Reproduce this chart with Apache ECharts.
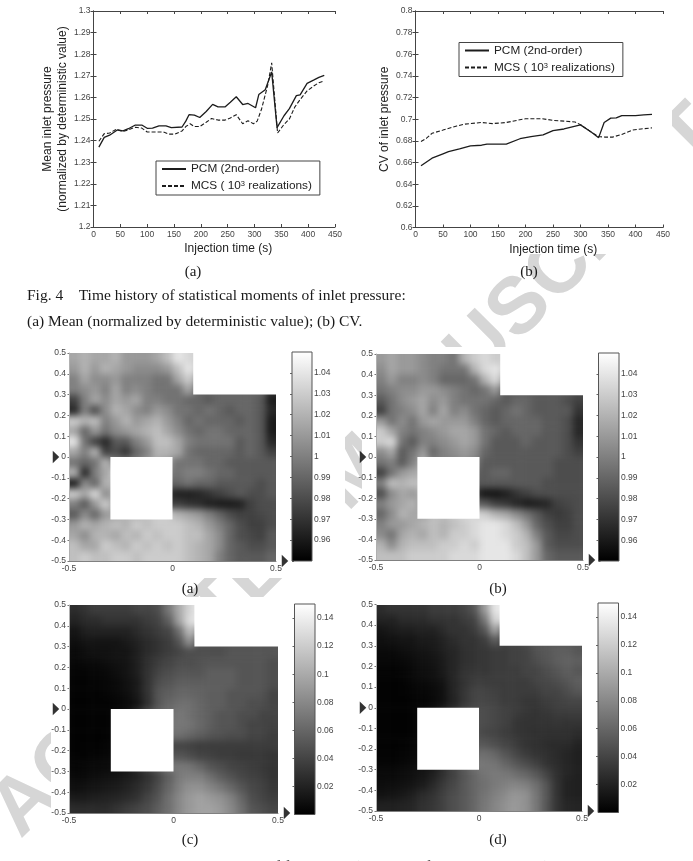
<!DOCTYPE html>
<html>
<head>
<meta charset="utf-8">
<script src="https://cdn.jsdelivr.net/npm/echarts@6/dist/echarts.min.js"></script>
<style>
  html, body { margin: 0; padding: 0; background: #fff; overflow: hidden; }
  #page { position: relative; width: 693px; height: 861px; overflow: hidden; }
  .layer { position: absolute; left: 0; top: 0; width: 693px; height: 861px; }
  .field { position: absolute; overflow: hidden; }
  .field > div { position: absolute; filter: blur(3.5px); }
</style>
</head>
<body>
<div id="page">
  <div id="paper" class="layer"></div>
  <div id="fieldA" class="field"></div>
  <div id="fieldB" class="field"></div>
  <div id="fieldC" class="field"></div>
  <div id="fieldD" class="field"></div>
  <div id="overlay" class="layer"></div>
</div>
<script>
// Time history of inlet pressure: mean
const meanPcm = [[10,1.237],[20,1.2415],[30,1.2425],[45,1.245],[55,1.2445],[65,1.2455],[78,1.2472],[90,1.2472],[100,1.2457],[110,1.2458],[122,1.2468],[135,1.2468],[145,1.246],[165,1.2463],[172,1.249],[178,1.252],[188,1.2518],[198,1.2507],[210,1.2535],[222,1.2568],[232,1.2556],[245,1.2556],[255,1.2578],[266,1.2603],[278,1.2567],[288,1.2572],[302,1.2552],[308,1.2613],[320,1.2635],[332,1.2718],[342,1.246],[355,1.2515],[365,1.2548],[378,1.2608],[385,1.2612],[398,1.2665],[410,1.268],[420,1.2693],[430,1.2702]];
const meanMcs = [[10,1.2397],[20,1.2432],[30,1.2435],[42,1.2452],[55,1.2442],[65,1.245],[78,1.2462],[90,1.2458],[100,1.244],[110,1.244],[130,1.244],[140,1.243],[152,1.243],[165,1.2445],[172,1.2465],[180,1.2478],[188,1.2465],[198,1.2465],[210,1.2485],[220,1.2502],[232,1.2495],[245,1.2495],[255,1.2505],[266,1.252],[278,1.2478],[288,1.2492],[298,1.2478],[305,1.249],[313,1.2545],[325,1.266],[332,1.276],[343,1.2435],[355,1.2475],[365,1.25],[375,1.2555],[385,1.259],[398,1.263],[410,1.2652],[420,1.2668],[430,1.2677]];
// Time history of inlet pressure: coefficient of variation
const cvPcm = [[10,0.657],[30,0.664],[50,0.668],[60,0.67],[80,0.6726],[100,0.6754],[120,0.676],[130,0.677],[165,0.677],[190,0.682],[210,0.684],[232,0.6855],[250,0.6895],[270,0.691],[300,0.6948],[320,0.688],[333,0.683],[343,0.697],[355,0.701],[365,0.7012],[375,0.7034],[400,0.7034],[415,0.704],[430,0.7045]];
const cvMcs = [[10,0.6794],[20,0.6825],[30,0.687],[50,0.69],[75,0.6938],[90,0.6955],[110,0.6965],[120,0.697],[140,0.696],[165,0.697],[200,0.7005],[230,0.7005],[250,0.699],[290,0.6975],[300,0.695],[320,0.688],[333,0.684],[345,0.6835],[358,0.6835],[375,0.686],[395,0.69],[410,0.691],[430,0.692]];

// Filling-time fields on a 20 x 20 cell mesh, top row first. Cells inside the
// cut-outs carry their neighbours' level and sit below the white masks.
const fieldMeanPcm = [
[1.015,1.02,1.015,1.015,1.02,1.01,1.01,1.01,1.015,1.025,1.04,1.035,1.03,1.03,1.03,1.03,1.03,1.03,1.03,1.03],
[1.01,1.02,1.01,1.02,1.015,1.01,1.005,1.005,1.005,1.01,1.025,1.04,1.03,1.03,1.03,1.03,1.03,1.03,1.03,1.03],
[1,1.015,1.005,1.005,1.01,1,1,1,0.995,0.995,1.015,1.03,1.01,1.01,1.01,1.01,1.01,1.01,1.01,1.01],
[1,1.005,1.01,1,1.015,1,1.005,1,0.995,0.995,0.995,1.015,0.99,0.99,0.99,0.99,0.99,0.99,0.99,0.97],
[0.975,1,1.015,1.005,1.015,1.01,1.015,1,1,0.995,0.995,0.99,0.99,0.985,0.99,0.99,0.99,0.99,0.985,0.96],
[0.965,1,0.98,1.005,1.02,1.015,1.005,1,1.01,1.005,0.995,0.995,0.99,0.995,0.99,0.985,0.99,0.99,0.985,0.965],
[1.03,1.02,1.025,1,1.01,1.02,1.01,1.015,1.02,1.01,1,0.99,0.995,0.99,0.99,0.99,0.985,0.99,0.985,0.96],
[1.015,0.99,1.01,0.995,1.005,1.01,1.015,1.02,1.025,1.015,1.005,0.995,0.99,0.995,0.995,0.99,0.99,0.99,0.985,0.96],
[1.04,0.995,0.975,0.965,0.985,0.985,1,1.01,1.025,1.025,1.015,1,0.995,0.995,0.995,0.995,0.985,0.99,0.985,0.965],
[1.015,1,1.02,0.975,0.98,0.97,0.99,1,1.02,1.02,1.015,0.995,0.99,0.99,0.99,0.99,0.985,0.99,0.985,0.975],
[0.995,0.99,0.995,1.02,1,1,1,1.01,1.015,1.01,0.995,0.995,0.995,0.99,0.99,0.985,0.985,0.985,0.985,0.985],
[1.02,0.965,1,1.015,1.03,1.01,1.01,1.01,1.01,1,0.995,1,1,0.995,0.99,0.99,0.985,0.985,0.985,0.985],
[0.96,1.005,0.99,1.02,1.02,1.01,1.01,1.01,1,0.99,0.99,0.995,0.99,0.99,0.985,0.985,0.985,0.985,0.98,0.985],
[1.03,1.015,1.035,1.005,1.02,1.01,1.01,1,0.985,0.97,0.962,0.962,0.965,0.97,0.975,0.98,0.985,0.98,0.98,0.985],
[1,0.985,1.01,1.03,1.01,1.01,1.01,1,0.985,0.975,0.975,0.97,0.968,0.962,0.96,0.96,0.962,0.975,0.98,0.98],
[0.985,1.005,0.99,1.01,1.015,1.02,1.02,1.025,1.03,1.03,1.02,1.015,1.01,1,0.99,0.98,0.975,0.975,0.978,0.98],
[1.01,1.02,1.015,1.02,1.025,1.02,1.03,1.025,1.03,1.03,1.03,1.025,1.02,1.01,1,0.99,0.98,0.975,0.975,0.98],
[1.015,1.005,1.02,1.02,1.015,1.025,1.02,1.03,1.025,1.03,1.03,1.025,1.025,1.015,1.005,0.99,0.98,0.978,0.975,0.985],
[1.025,1.015,1.015,1.03,1.025,1.02,1.03,1.025,1.03,1.025,1.03,1.025,1.02,1.015,1.005,0.99,0.985,0.98,0.98,0.985],
[1.025,1.03,1.025,1.025,1.03,1.03,1.025,1.03,1.03,1.03,1.03,1.025,1.02,1.015,1,0.99,0.985,0.985,0.985,0.99]
];
const fieldMeanMcs = [
[1.01,1.015,1.01,1.01,1.005,1,1,0.995,1.02,1.03,1.035,1.03,1.03,1.03,1.03,1.03,1.03,1.03,1.03,1.03],
[1.005,1.015,1.01,1.01,1.005,1,0.995,0.995,0.995,1.02,1.035,1.04,1.03,1.03,1.03,1.03,1.03,1.03,1.03,1.03],
[1,1.01,1,1,1.005,1,0.99,0.99,0.99,0.995,1.02,1.035,1.01,1.01,1.01,1.01,1.01,1.01,1.01,1.01],
[0.995,1,1.005,1.005,1.01,1.01,1.005,1,0.995,0.99,0.995,1.01,0.985,0.985,0.985,0.985,0.985,0.985,0.985,0.98],
[0.985,0.995,1.005,1.01,1.015,1.005,1.01,1,0.995,0.995,0.995,0.99,0.985,0.99,0.99,0.985,0.985,0.985,0.98,0.975],
[0.975,0.995,1,1.005,1.015,1,1.015,1,1.005,0.995,0.99,0.985,0.99,0.995,0.99,0.985,0.985,0.985,0.985,0.97],
[1.01,0.995,1.005,0.995,1.01,1.015,1.01,1.01,1.01,1,0.99,0.985,0.99,0.99,0.99,0.99,0.985,0.985,0.98,0.965],
[1.03,1.015,1,0.995,1,1.005,1.01,1.015,1.015,1.01,0.995,0.99,0.985,0.99,0.99,0.99,0.985,0.985,0.98,0.965],
[1.03,1.035,0.995,0.985,1,1,1.005,1.01,1.015,1.01,0.995,0.985,0.985,0.985,0.99,0.985,0.985,0.985,0.98,0.97],
[1.005,1.015,0.985,0.995,1.01,0.99,1,1.005,1.01,1.005,0.99,0.985,0.985,0.985,0.985,0.985,0.985,0.985,0.98,0.975],
[0.995,1,0.985,1,1.02,1,1,1,1.005,1,0.985,0.985,0.985,0.985,0.985,0.985,0.985,0.98,0.98,0.98],
[0.975,0.995,1.01,1.015,1.02,1.01,1.01,1,0.995,0.99,0.985,0.99,0.99,0.985,0.985,0.985,0.985,0.98,0.98,0.98],
[1,1.025,1.02,1.025,1.025,1.01,1.01,1,0.99,0.985,0.985,0.985,0.985,0.985,0.985,0.985,0.98,0.98,0.98,0.98],
[0.98,1.005,1.015,1.01,1.02,1.01,1,0.99,0.98,0.97,0.958,0.958,0.962,0.97,0.975,0.98,0.98,0.98,0.98,0.98],
[1,1.01,1.015,1.02,1.01,1.01,1.01,1.01,1,0.99,0.985,0.975,0.972,0.965,0.96,0.962,0.965,0.975,0.978,0.98],
[0.99,1.005,1.02,1.015,1.015,1.025,1.025,1.03,1.035,1.035,1.03,1.02,1.015,1.005,0.995,0.985,0.975,0.972,0.975,0.98],
[1,1.01,1.01,1.015,1.02,1.025,1.02,1.025,1.03,1.035,1.04,1.04,1.035,1.025,1.01,0.99,0.98,0.975,0.975,0.98],
[1.005,0.995,1.015,1.02,1.015,1.025,1.02,1.03,1.03,1.035,1.04,1.04,1.035,1.03,1.02,1,0.985,0.978,0.978,0.98],
[1.02,1.005,1.02,1.025,1.025,1.025,1.03,1.03,1.035,1.03,1.04,1.04,1.04,1.03,1.025,1.01,0.985,0.98,0.98,0.98],
[1.025,1.025,1.025,1.03,1.03,1.03,1.03,1.035,1.035,1.035,1.04,1.04,1.04,1.035,1.025,1.01,0.99,0.985,0.985,0.985]
];
const fieldCvPcm = [
[0.025,0.03,0.035,0.035,0.035,0.035,0.04,0.04,0.045,0.07,0.1,0.125,0.14,0.14,0.14,0.14,0.14,0.14,0.14,0.14],
[0.02,0.025,0.025,0.03,0.03,0.03,0.03,0.035,0.04,0.055,0.095,0.13,0.14,0.14,0.14,0.14,0.14,0.14,0.14,0.14],
[0.012,0.018,0.02,0.02,0.02,0.02,0.025,0.03,0.035,0.04,0.065,0.11,0.09,0.07,0.06,0.06,0.06,0.06,0.06,0.06],
[0.008,0.012,0.012,0.012,0.012,0.015,0.02,0.025,0.03,0.035,0.05,0.085,0.05,0.05,0.05,0.05,0.05,0.05,0.05,0.05],
[0.005,0.008,0.01,0.01,0.012,0.012,0.018,0.025,0.03,0.035,0.04,0.045,0.045,0.045,0.045,0.05,0.05,0.05,0.05,0.05],
[0.004,0.005,0.006,0.008,0.01,0.012,0.018,0.028,0.035,0.04,0.045,0.045,0.048,0.05,0.05,0.05,0.05,0.05,0.05,0.045],
[0.003,0.003,0.004,0.005,0.008,0.012,0.018,0.03,0.04,0.045,0.05,0.05,0.05,0.055,0.055,0.055,0.05,0.05,0.05,0.045],
[0.002,0.002,0.003,0.004,0.006,0.01,0.015,0.03,0.045,0.05,0.055,0.055,0.055,0.055,0.055,0.055,0.05,0.05,0.05,0.045],
[0.002,0.002,0.002,0.003,0.005,0.008,0.015,0.03,0.05,0.055,0.06,0.06,0.058,0.055,0.055,0.05,0.05,0.05,0.048,0.04],
[0.001,0.001,0.002,0.002,0.003,0.006,0.012,0.028,0.05,0.06,0.065,0.065,0.06,0.055,0.055,0.05,0.05,0.045,0.045,0.04],
[0.001,0.001,0.002,0.002,0.005,0.01,0.03,0.05,0.06,0.065,0.07,0.065,0.06,0.055,0.05,0.05,0.045,0.045,0.04,0.04],
[0.001,0.001,0.002,0.002,0.005,0.01,0.03,0.05,0.06,0.07,0.07,0.068,0.062,0.055,0.05,0.05,0.045,0.04,0.04,0.038],
[0.001,0.001,0.001,0.002,0.005,0.01,0.03,0.05,0.06,0.065,0.065,0.06,0.055,0.05,0.048,0.045,0.045,0.04,0.04,0.035],
[0.001,0.002,0.002,0.003,0.005,0.01,0.03,0.04,0.04,0.04,0.04,0.038,0.035,0.035,0.035,0.035,0.035,0.035,0.035,0.035],
[0.002,0.002,0.003,0.004,0.006,0.01,0.03,0.04,0.05,0.05,0.05,0.045,0.04,0.038,0.035,0.035,0.033,0.033,0.033,0.03],
[0.003,0.004,0.005,0.006,0.008,0.012,0.025,0.04,0.055,0.07,0.07,0.068,0.06,0.05,0.045,0.04,0.038,0.035,0.033,0.03],
[0.005,0.006,0.008,0.01,0.012,0.016,0.02,0.028,0.04,0.055,0.072,0.075,0.075,0.065,0.055,0.048,0.042,0.038,0.035,0.03],
[0.008,0.01,0.012,0.014,0.016,0.02,0.025,0.033,0.045,0.06,0.075,0.085,0.085,0.078,0.07,0.06,0.05,0.042,0.038,0.032],
[0.015,0.016,0.018,0.02,0.022,0.025,0.03,0.04,0.05,0.065,0.08,0.09,0.095,0.09,0.085,0.075,0.06,0.045,0.04,0.035],
[0.025,0.025,0.025,0.025,0.03,0.035,0.04,0.045,0.055,0.065,0.08,0.09,0.095,0.095,0.09,0.08,0.065,0.05,0.045,0.04]
];
const fieldCvMcs = [
[0.025,0.03,0.03,0.03,0.03,0.035,0.035,0.035,0.04,0.05,0.09,0.135,0.14,0.14,0.14,0.14,0.14,0.14,0.14,0.14],
[0.02,0.02,0.025,0.025,0.025,0.03,0.03,0.03,0.035,0.04,0.07,0.125,0.13,0.13,0.13,0.13,0.13,0.13,0.13,0.13],
[0.012,0.015,0.018,0.018,0.02,0.02,0.025,0.03,0.03,0.035,0.05,0.095,0.06,0.05,0.05,0.05,0.05,0.05,0.05,0.05],
[0.008,0.01,0.012,0.012,0.015,0.016,0.02,0.025,0.03,0.03,0.035,0.055,0.04,0.04,0.045,0.05,0.05,0.05,0.05,0.05],
[0.005,0.006,0.008,0.01,0.012,0.014,0.018,0.022,0.028,0.03,0.032,0.035,0.035,0.038,0.04,0.048,0.052,0.055,0.055,0.05],
[0.004,0.004,0.005,0.007,0.01,0.012,0.016,0.022,0.028,0.03,0.032,0.035,0.035,0.038,0.04,0.045,0.05,0.055,0.058,0.055],
[0.002,0.002,0.003,0.005,0.008,0.01,0.015,0.022,0.03,0.032,0.032,0.035,0.035,0.035,0.04,0.04,0.045,0.05,0.055,0.05],
[0.001,0.001,0.002,0.004,0.006,0.008,0.012,0.022,0.03,0.035,0.035,0.035,0.035,0.035,0.035,0.04,0.042,0.045,0.05,0.055],
[0.001,0.001,0.002,0.003,0.004,0.006,0.01,0.022,0.032,0.04,0.04,0.038,0.035,0.035,0.035,0.035,0.04,0.04,0.045,0.05],
[0.001,0.001,0.001,0.002,0.003,0.005,0.01,0.02,0.032,0.04,0.042,0.04,0.035,0.035,0.032,0.032,0.035,0.038,0.04,0.04],
[0.001,0.001,0.001,0.002,0.005,0.01,0.02,0.03,0.04,0.045,0.045,0.042,0.038,0.035,0.032,0.03,0.032,0.035,0.035,0.035],
[0.001,0.001,0.001,0.002,0.005,0.01,0.02,0.03,0.04,0.045,0.045,0.042,0.038,0.032,0.03,0.03,0.03,0.032,0.03,0.03],
[0.001,0.001,0.001,0.002,0.005,0.01,0.02,0.03,0.04,0.045,0.042,0.04,0.035,0.032,0.03,0.028,0.028,0.028,0.028,0.025],
[0.001,0.001,0.002,0.003,0.005,0.01,0.02,0.03,0.045,0.05,0.05,0.045,0.04,0.035,0.03,0.028,0.026,0.025,0.025,0.02],
[0.002,0.002,0.003,0.004,0.006,0.01,0.02,0.035,0.05,0.06,0.065,0.06,0.05,0.042,0.035,0.03,0.028,0.025,0.022,0.018],
[0.003,0.003,0.004,0.006,0.008,0.012,0.025,0.04,0.055,0.07,0.07,0.068,0.06,0.052,0.045,0.038,0.03,0.026,0.022,0.018],
[0.005,0.005,0.007,0.009,0.012,0.018,0.028,0.038,0.05,0.06,0.068,0.072,0.07,0.065,0.06,0.052,0.04,0.028,0.022,0.018],
[0.007,0.008,0.01,0.012,0.016,0.024,0.034,0.042,0.052,0.06,0.065,0.072,0.075,0.078,0.075,0.065,0.05,0.03,0.02,0.018],
[0.01,0.012,0.014,0.018,0.025,0.03,0.038,0.045,0.052,0.06,0.068,0.075,0.082,0.088,0.085,0.07,0.052,0.03,0.02,0.018],
[0.018,0.018,0.02,0.022,0.028,0.032,0.038,0.045,0.052,0.06,0.07,0.078,0.085,0.09,0.085,0.07,0.05,0.03,0.022,0.02]
];

const pressureTicks = { min: 1.2, max: 1.3, step: 0.01 };
const cvTicks = { min: 0.6, max: 0.8, step: 0.02 };
const timeTicks = { min: 0, max: 450, step: 50 };
const fieldMeanRange = { min: 0.95, max: 1.05, step: 0.01 };
const fieldCvRange = { min: 0, max: 0.15, step: 0.02 };
const seriesNames = ['PCM (2nd-order)', 'MCS (10^3 realizations)'];
// Domain cut-outs in field coordinates: x0, y0, x1, y1
const cutOuts = [[-0.3, -0.3, 0, 0], [0.1, 0.3, 0.5, 0.5]];
// Pointer triangles on the field axes
const leftPointer = [[-0.5, 0]];
const cornerPointer = [[0.5, -0.5]];
// Words of the figure 5 caption, spread across the text column
const fig5Words = [['Fig.', 46], ['5', 83], ['Statistical', 112], ['moments', 190], ['of', 267], ['filling', 284], ['(constant', 354], ['flow-rate', 425], ['injection)', 490], ['process', 575]];

// Page layout in pixels
const ink = '#222222';
const sans = '"Liberation Sans", Arial, sans-serif';
const serif = '"Liberation Serif", "Times New Roman", serif';
const lineBoxes = [
  { left: 93.5, right: 335, top: 11, bottom: 227 },
  { left: 415.5, right: 663, top: 11, bottom: 227.5 }
];
const panels = [
  { id: 'fieldA', rows: fieldMeanPcm, range: fieldMeanRange, box: { left: 69, right: 276, top: 353, bottom: 561 }, bar: { left: 292, right: 312, top: 352, bottom: 561 } },
  { id: 'fieldB', rows: fieldMeanMcs, range: fieldMeanRange, box: { left: 376, right: 583, top: 354, bottom: 560 }, bar: { left: 598.5, right: 619, top: 353, bottom: 561 } },
  { id: 'fieldC', rows: fieldCvPcm, range: fieldCvRange, box: { left: 69, right: 278, top: 605, bottom: 813 }, bar: { left: 294.5, right: 315, top: 604, bottom: 814.5 } },
  { id: 'fieldD', rows: fieldCvMcs, range: fieldCvRange, box: { left: 376, right: 582, top: 604.5, bottom: 811 }, bar: { left: 598, right: 618.5, top: 603, bottom: 812.5 } }
];

function gridOf(b) {
  return { left: b.left, top: b.top, width: b.right - b.left, height: b.bottom - b.top, containLabel: false };
}

// Each field is a heatmap on hidden category axes, softened by the blur on its
// holder; one ring of border cells keeps the blur from fading at the plot edge.
panels.forEach(function (p) {
  const holder = document.getElementById(p.id);
  const w = p.box.right - p.box.left, h = p.box.bottom - p.box.top;
  holder.style.cssText = 'left:' + p.box.left + 'px;top:' + p.box.top + 'px;width:' + w + 'px;height:' + h + 'px';
  const cw = w / 20, ch = h / 20;
  const inner = document.createElement('div');
  inner.style.cssText = 'left:' + (-cw) + 'px;top:' + (-ch) + 'px;width:' + (w + 2 * cw) + 'px;height:' + (h + 2 * ch) + 'px';
  holder.appendChild(inner);
  const cells = [];
  for (let r = -1; r <= 20; r++) {
    for (let c = -1; c <= 20; c++) {
      const row = p.rows[Math.min(19, Math.max(0, r))];
      cells.push([c + 1, r + 1, row[Math.min(19, Math.max(0, c))]]);
    }
  }
  const idx = Array.from({ length: 22 }, function (_, i) { return i; });
  echarts.init(inner).setOption({
    animation: false,
    grid: { left: 0, right: 0, top: 0, bottom: 0 },
    xAxis: { type: 'category', data: idx, show: false },
    yAxis: { type: 'category', data: idx, show: false, inverse: true },
    visualMap: { show: false, min: p.range.min, max: p.range.max, inRange: { color: ['#000000', '#ffffff'] } },
    series: [{ type: 'heatmap', data: cells, progressive: 0, itemStyle: { borderWidth: 0 } }]
  });
});

// Paper layer: watermark, opaque figure boxes, captions and the two line plots
const figureBoxes = [
  [30, 0, 315, 254], [362, 0, 310, 254],
  [51, 347, 294, 231], [362, 347, 280, 231],
  [51, 597, 294, 231], [362, 597, 280, 231]
];
function caption(text, x, y, size, align) {
  return { type: 'text', z: 5, x: x, y: y, style: { text: text, fill: '#1a1a1a', font: size + 'px ' + serif, align: align || 'left', verticalAlign: 'middle' } };
}
const paperGraphics = [
  { type: 'text', z: 1, x: 357, y: 472, rotation: Math.PI / 4, style: { text: 'ACCEPTED MANUSCRIPT', fill: '#d6d6d6', font: 'bold 80px ' + sans, align: 'center', verticalAlign: 'middle' } }
].concat(figureBoxes.map(function (b) {
  return { type: 'rect', z: 2, shape: { x: b[0], y: b[1], width: b[2], height: b[3] }, style: { fill: '#ffffff' } };
})).concat([
  caption('(a)', 193, 272, 15, 'center'),
  caption('(b)', 529, 272, 15, 'center'),
  caption('Fig. 4    Time history of statistical moments of inlet pressure:', 27, 296, 15.5),
  caption('(a) Mean (normalized by deterministic value); (b) CV.', 27, 322, 15.5),
  caption('(a)', 190, 589, 15, 'center'),
  caption('(b)', 498, 589, 15, 'center'),
  caption('(c)', 190, 840, 15, 'center'),
  caption('(d)', 498, 840, 15, 'center')
]).concat(fig5Words.map(function (w) { return caption(w[0], w[1], 867, 15.5); }));

function lineAxes(ticks, yName, gap, i) {
  const axisStyle = { lineStyle: { color: '#444', width: 1 } };
  const tickStyle = { show: true, inside: true, length: 3, lineStyle: { color: '#444' } };
  return {
    x: [
      { gridIndex: i, z: 5, type: 'value', min: timeTicks.min, max: timeTicks.max, interval: timeTicks.step, name: 'Injection time (s)', nameLocation: 'middle', nameGap: 16, nameTextStyle: { fontFamily: sans, fontSize: 12, color: ink, padding: [0, 0, 0, 28] }, axisLine: Object.assign({ onZero: false }, axisStyle), axisTick: tickStyle, splitLine: { show: false }, axisLabel: { fontFamily: sans, fontSize: 8.5, color: '#444', margin: 3 } },
      { gridIndex: i, z: 5, type: 'value', position: 'top', min: timeTicks.min, max: timeTicks.max, interval: timeTicks.step, axisLine: axisStyle, axisTick: tickStyle, axisLabel: { show: false }, splitLine: { show: false } }
    ],
    y: [
      { gridIndex: i, z: 5, type: 'value', min: ticks.min, max: ticks.max, interval: ticks.step, name: yName, nameLocation: 'middle', nameGap: gap, nameTextStyle: { fontFamily: sans, fontSize: 12, color: ink, lineHeight: 15 }, axisLine: Object.assign({ onZero: false }, axisStyle), axisTick: tickStyle, splitLine: { show: false }, axisLabel: { fontFamily: sans, fontSize: 8.5, color: '#444', margin: 3 } },
      { gridIndex: i, z: 5, type: 'value', position: 'right', min: ticks.min, max: ticks.max, interval: ticks.step, axisLine: axisStyle, axisTick: tickStyle, axisLabel: { show: false }, splitLine: { show: false } }
    ]
  };
}
const axesMean = lineAxes(pressureTicks, 'Mean inlet pressure\n(normalized by deterministic value)', 20, 0);
const axesCv = lineAxes(cvTicks, 'CV of inlet pressure', 21, 1);
function curve(name, data, xi, yi, dashed) {
  return { type: 'line', name: name, xAxisIndex: xi, yAxisIndex: yi, data: data, symbol: 'none', z: 6, lineStyle: { color: '#1c1c1c', width: dashed ? 1.1 : 1.3, type: dashed ? [4, 2] : 'solid' }, itemStyle: { color: '#1c1c1c' } };
}
function legendAt(left, top) {
  return {
    left: left, top: top, z: 7, orient: 'vertical', itemWidth: 24, itemHeight: 6, itemGap: 5,
    padding: [2, 8, 2, 5], backgroundColor: '#fff', borderColor: '#444', borderWidth: 1, borderRadius: 0,
    data: seriesNames,
    itemStyle: { color: 'rgba(0,0,0,0)', borderColor: 'rgba(0,0,0,0)', borderWidth: 0 },
    formatter: function (n) { return n.indexOf('^') > 0 ? 'MCS ( 10{sup|3} realizations)' : n; },
    textStyle: { fontFamily: sans, fontSize: 11.8, color: ink, rich: { sup: { fontSize: 7.5, verticalAlign: 'top', lineHeight: 12, padding: [0, 0, 5, 0], color: ink } } }
  };
}
echarts.init(document.getElementById('paper')).setOption({
  animation: false,
  graphic: paperGraphics,
  grid: lineBoxes.map(function (b) { return Object.assign(gridOf(b), { show: false }); }),
  legend: [legendAt(156, 161), legendAt(459, 42.5)],
  xAxis: axesMean.x.concat(axesCv.x),
  yAxis: axesMean.y.concat(axesCv.y),
  series: [
    curve(seriesNames[0], meanPcm, 0, 0, false),
    curve(seriesNames[1], meanMcs, 0, 0, true),
    curve(seriesNames[0], cvPcm, 2, 2, false),
    curve(seriesNames[1], cvMcs, 2, 2, true)
  ]
});

// Overlay layer: crisp axes, white cut-outs, colour bars and pointers above the fields
const overlay = { animation: false, grid: [], xAxis: [], yAxis: [], series: [] };
const labelStyle = { fontFamily: sans, fontSize: 8.5, color: '#444' };
function addAxis(list, a) { list.push(a); return list.length - 1; }
panels.forEach(function (p) {
  const g = overlay.grid.push(gridOf(p.box)) - 1;
  const xi = addAxis(overlay.xAxis, { gridIndex: g, type: 'value', min: -0.5, max: 0.5, interval: 0.5, axisLine: { onZero: false, lineStyle: { color: '#808080' } }, axisTick: { show: false }, splitLine: { show: false }, axisLabel: Object.assign({ margin: 3 }, labelStyle) });
  const yi = addAxis(overlay.yAxis, { gridIndex: g, type: 'value', min: -0.5, max: 0.5, interval: 0.1, axisLine: { onZero: false, lineStyle: { color: '#b0b0b0' } }, axisTick: { show: true, length: 1.5, lineStyle: { color: '#777' } }, splitLine: { show: false }, axisLabel: Object.assign({ margin: 3 }, labelStyle) });
  overlay.series.push({
    type: 'custom', xAxisIndex: xi, yAxisIndex: yi, clip: false, data: cutOuts, z: 3,
    renderItem: function (params, api) {
      const a = api.coord([api.value(0), api.value(1)]);
      const b = api.coord([api.value(2), api.value(3)]);
      return { type: 'rect', shape: { x: a[0], y: b[1], width: b[0] - a[0], height: a[1] - b[1] }, style: { fill: '#fff' } };
    }
  });
  const pointerStyle = { type: 'scatter', xAxisIndex: xi, yAxisIndex: yi, clip: false, symbol: 'triangle', symbolRotate: -90, symbolSize: [12.5, 6.5], itemStyle: { color: '#000' }, silent: true, z: 5 };
  overlay.series.push(Object.assign({ data: leftPointer, symbolOffset: [-13, 0] }, pointerStyle));
  overlay.series.push(Object.assign({ data: cornerPointer, symbolOffset: [9, 0] }, pointerStyle));

  // Colour bar: a gradient rectangle spanning the field's value range on its own axis
  const bg = overlay.grid.push(Object.assign(gridOf(p.bar), { show: true, borderColor: '#555', borderWidth: 1, z: 6 })) - 1;
  const bxi = addAxis(overlay.xAxis, { gridIndex: bg, type: 'value', min: 0, max: 1, show: false });
  const r = p.range;
  const tickLike = { show: true, inside: true, length: 2, lineStyle: { color: '#666' } };
  const byi = addAxis(overlay.yAxis, { gridIndex: bg, type: 'value', position: 'right', min: r.min, max: r.max, interval: r.step, axisLine: { show: false }, axisTick: tickLike, splitLine: { show: false }, axisLabel: Object.assign({ margin: 2, showMinLabel: false, showMaxLabel: false }, labelStyle) });
  addAxis(overlay.yAxis, { gridIndex: bg, type: 'value', position: 'left', min: r.min, max: r.max, interval: r.step, axisLine: { show: false }, axisTick: tickLike, splitLine: { show: false }, axisLabel: { show: false } });
  overlay.series.push({
    type: 'custom', xAxisIndex: bxi, yAxisIndex: byi, data: [[0, r.min, 1, r.max]], z: 1,
    renderItem: function (params, api) {
      const a = api.coord([api.value(0), api.value(1)]);
      const b = api.coord([api.value(2), api.value(3)]);
      return { type: 'rect', shape: { x: a[0], y: b[1], width: b[0] - a[0], height: a[1] - b[1] }, style: { fill: new echarts.graphic.LinearGradient(0, 0, 0, 1, [{ offset: 0, color: '#fff' }, { offset: 1, color: '#000' }]) } };
    }
  });
});
echarts.init(document.getElementById('overlay')).setOption(overlay);
</script>
</body>
</html>
